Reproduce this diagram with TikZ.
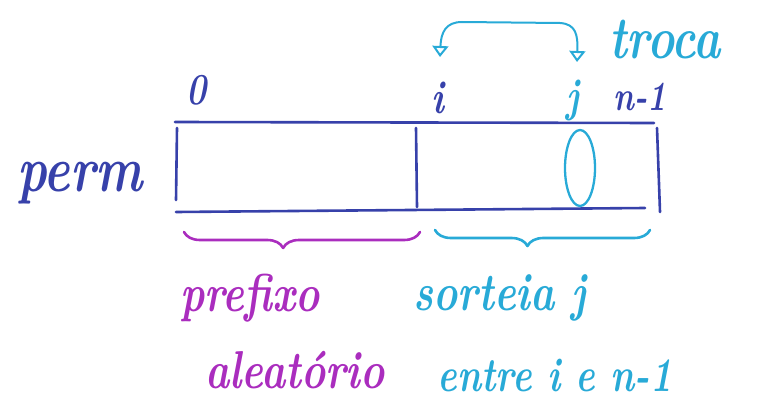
\documentclass[tikz,border=0pt]{standalone}
\usetikzlibrary{arrows.meta,decorations.pathreplacing}
\definecolor{inkblue}{RGB}{55,65,170}
\definecolor{inkcyan}{RGB}{40,170,215}
\definecolor{inkmag}{RGB}{170,45,190}
\newcommand{\tallhand}[1]{\scalebox{1}[1.3]{#1}}
\begin{document}
\begin{tikzpicture}[x=1pt,y=-1pt,line width=2.6pt,line cap=round,line join=round,
  hand/.style={font=\bfseries\itshape\fontsize{#1}{#1}\selectfont,inner sep=0pt},
  arr/.style={draw=inkblue},
  bracedown/.style={decorate,decoration={brace,mirror,amplitude=16pt,aspect=#1}},
  swaptip/.style={{Triangle[open,length=11pt,width=16pt,line width=2pt]}-{Triangle[open,length=11pt,width=16pt,line width=2pt]}}]
\useasboundingbox (0,0) rectangle (775,409);
% labels
\node[hand=50,text=inkblue] (perm) at (80,183) {\tallhand{perm}};
\node[hand=34,text=inkblue] (zero) at (197,90) {\tallhand{0}};
\node[hand=36,text=inkblue] (ilab) at (438,98) {\tallhand{i}};
\node[hand=36,text=inkcyan] (jlab) at (573,100) {\tallhand{j}};
\node[hand=32,text=inkblue] (nlab) at (640,97) {\tallhand{n-1}};
\node[hand=46,text=inkcyan] (troca) at (665,40) {\tallhand{troca}};
% array
\coordinate (tl) at (175,122);
\coordinate (tr) at (654,123);
\coordinate (bl) at (176,212);
\coordinate (br) at (645,208);
\draw[arr] (tl) -- (tr);
\draw[arr] (bl) -- (br);
\draw[arr] (177,128) -- (176,200);
\draw[arr] (416,128) -- (417,207);
\draw[arr] (657,128) -- (660,212);
% ellipse at j
\draw[draw=inkcyan,line width=2.3pt] (580,168) ellipse [x radius=15,y radius=38];
% swap arrow
\coordinate (jtip) at (577,62);
\coordinate (itip) at (440,57);
\draw[draw=inkcyan,line width=2pt,swaptip] (jtip) .. controls (578,35) and (576,24) .. (560,23) -- (462,22) .. controls (446,22) and (441,32) .. (itip);
% braces
\draw[draw=inkmag,bracedown=0.42] (184,232) -- (420,232);
\draw[draw=inkcyan,bracedown=0.43] (435,230) -- (650,230);
% bottom labels
\node[hand=41,text=inkmag] (pref) at (250,298) {\tallhand{prefixo}};
\node[hand=41,text=inkmag] (alea) at (295,370) {\tallhand{aleatório}};
\node[hand=41,text=inkcyan] (sort) at (500,298) {\tallhand{sorteia j}};
\node[hand=37,text=inkcyan] (entre) at (555,375) {\tallhand{entre i e n-1}};
\end{tikzpicture}
\end{document}
